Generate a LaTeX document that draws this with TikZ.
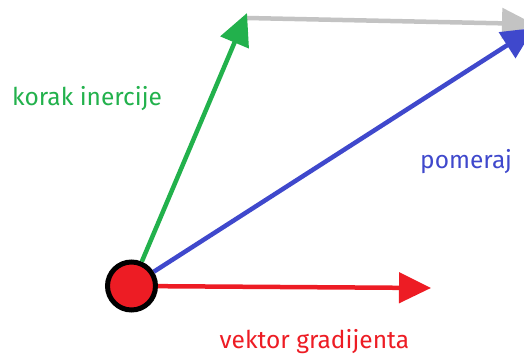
\documentclass[tikz,border=0pt]{standalone}
\usepackage{fontspec}
\setmainfont{Fira Sans}
\usepackage{tikz}
\usetikzlibrary{arrows.meta}
\definecolor{pgreen}{RGB}{34,177,76}
\definecolor{pblue}{RGB}{63,72,204}
\definecolor{pred}{RGB}{237,28,36}
\definecolor{pgray}{RGB}{195,195,195}

\begin{document}
\begin{tikzpicture}[
        x=1pt, y=-1pt,
        font=\fontsize{24.5}{28}\selectfont,
        vec/.style={line width=4.5pt, -{Triangle[length=32pt,width=30pt]}},
        dot/.style={circle, draw=black, line width=5pt, fill=pred,
            minimum size=48pt, inner sep=0pt},
        lbl/.style={anchor=base west, inner sep=0pt}
    ]
    \useasboundingbox (0,0) rectangle (524,354);
    \node[dot] (p0) at (131.5,286) {};
    \coordinate (inert) at (247,13);
    \coordinate (gstart) at (247,18);
    \coordinate (grad)  at (431,288);
    \coordinate (shift) at (534,28);
    \coordinate (end)   at (534,24);

    \draw[vec, pgray] (gstart) -- (end);
    \draw[vec, pgreen] (p0) -- (inert);
    \draw[vec, pblue] (p0) -- (shift);
    \draw[vec, pred] (p0) -- (grad);

    \node[lbl, pgreen] (lin) at (12,105) {korak inercije};
    \node[lbl, pblue]  (lsh) at (420,168) {pomeraj};
    \node[lbl, pred]   (lgr) at (219.5,348) {vektor gradijenta};
    \end{tikzpicture}
\end{document}
